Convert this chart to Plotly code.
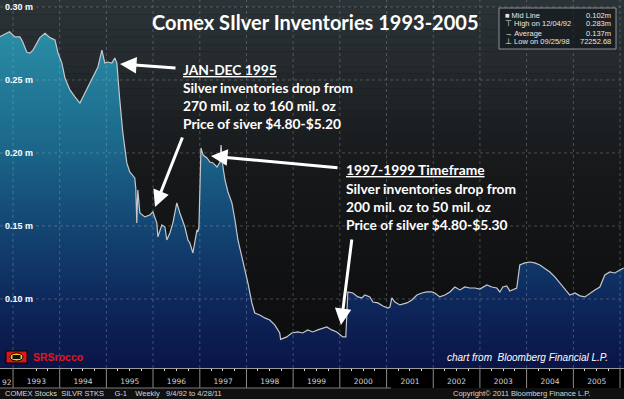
import plotly.graph_objects as go
import numpy as np

# ---------------- data ----------------
dates = [
    "1992-09-04", "1992-12-04", "1993-01-16", "1993-02-24", "1993-03-18", "1993-04-19",
    "1993-05-13", "1993-06-06", "1993-07-30", "1993-09-08", "1993-10-17", "1993-11-25",
    "1993-12-19", "1994-01-18", "1994-02-11", "1994-03-22", "1994-04-30", "1994-06-08",
    "1994-07-17", "1994-08-25", "1994-10-03", "1994-10-27", "1994-11-27", "1994-12-20",
    "1995-01-13", "1995-02-13", "1995-03-08", "1995-03-24", "1995-04-16", "1995-05-10",
    "1995-06-10", "1995-07-03", "1995-08-11", "1995-08-19", "1995-08-27", "1995-09-04",
    "1995-09-20", "1995-10-29", "1995-12-07", "1995-12-31", "1996-01-31", "1996-02-08",
    "1996-03-10", "1996-04-03", "1996-04-18", "1996-05-12", "1996-06-04", "1996-07-05",
    "1996-07-29", "1996-09-06", "1996-09-30", "1996-10-15", "1996-11-08", "1996-11-24",
    "1996-12-10", "1996-12-17", "1996-12-25", "1997-01-10", "1997-01-26", "1997-02-26",
    "1997-03-21", "1997-04-14", "1997-05-15", "1997-06-08", "1997-06-16", "1997-07-01",
    "1997-07-17", "1997-08-09", "1997-09-09", "1997-10-03", "1997-10-26", "1997-11-26",
    "1997-12-20", "1998-01-12", "1998-02-12", "1998-03-07", "1998-04-15", "1998-05-24",
    "1998-07-02", "1998-08-10", "1998-09-18", "1998-09-25", "1998-11-12", "1998-12-21",
    "1999-02-06", "1999-03-17", "1999-04-25", "1999-06-03", "1999-07-13", "1999-08-21",
    "1999-09-21", "1999-10-30", "1999-12-08", "2000-01-25", "2000-02-17", "2000-03-04",
    "2000-04-12", "2000-05-21", "2000-06-21", "2000-07-15", "2000-08-23", "2000-09-16",
    "2000-10-25", "2000-12-03", "2001-01-11", "2001-01-27", "2001-02-11", "2001-03-07",
    "2001-04-15", "2001-06-09", "2001-07-18", "2001-08-26", "2001-10-04", "2001-11-12",
    "2001-12-21", "2002-01-13", "2002-02-21", "2002-04-02", "2002-05-11", "2002-06-19",
    "2002-07-28", "2002-09-05", "2002-10-14", "2002-11-22", "2003-01-01", "2003-02-24",
    "2003-04-04", "2003-05-13", "2003-06-06", "2003-06-29", "2003-07-30", "2003-08-23",
    "2003-09-15", "2003-10-16", "2003-11-09", "2003-12-18", "2004-01-26", "2004-03-05",
    "2004-04-14", "2004-05-23", "2004-07-01", "2004-08-09", "2004-09-17", "2004-10-26",
    "2004-12-04", "2005-01-13", "2005-02-21", "2005-04-01", "2005-05-10", "2005-06-18",
    "2005-07-27", "2005-09-04", "2005-10-13", "2005-11-21", "2005-12-31", "2006-01-31",
]
stocks_m = [
    0.279, 0.283, 0.2795, 0.2795, 0.276, 0.269,
    0.2685, 0.2705, 0.279, 0.282, 0.279, 0.2774,
    0.2685, 0.2616, 0.2514, 0.2432, 0.2384, 0.2342,
    0.2411, 0.2479, 0.2548, 0.2589, 0.2705, 0.2616,
    0.2623, 0.2616, 0.2651, 0.2616, 0.2363, 0.2137,
    0.1932, 0.187, 0.1829, 0.176, 0.152, 0.1747,
    0.1589, 0.1562, 0.1575, 0.1596, 0.152, 0.1425,
    0.1507, 0.1493, 0.1404, 0.1452, 0.152, 0.1658,
    0.1589, 0.1493, 0.1404, 0.1384, 0.1315, 0.1404,
    0.1473, 0.1459, 0.1493, 0.2034, 0.1986, 0.1966,
    0.1938, 0.1932, 0.1904, 0.1938, 0.2055, 0.1904,
    0.1815, 0.1733, 0.1658, 0.1541, 0.1404, 0.1288,
    0.1199, 0.111, 0.0973, 0.0904, 0.089, 0.087,
    0.0856, 0.0822, 0.0767, 0.0723, 0.074, 0.0767,
    0.0774, 0.0767, 0.0788, 0.0774, 0.0788, 0.0801,
    0.0808, 0.0788, 0.0774, 0.074, 0.074, 0.1048,
    0.1041, 0.1014, 0.1007, 0.1027, 0.1014, 0.0979,
    0.0973, 0.0952, 0.0938, 0.0945, 0.1007, 0.0979,
    0.0959, 0.0973, 0.0993, 0.1027, 0.1041, 0.1048,
    0.1048, 0.1041, 0.1014, 0.1027, 0.1048, 0.1082,
    0.1062, 0.1082, 0.1075, 0.1075, 0.1068, 0.1096,
    0.1082, 0.1075, 0.1048, 0.1082, 0.1089, 0.1055,
    0.1062, 0.1075, 0.1233, 0.1247, 0.1253, 0.1247,
    0.1233, 0.1212, 0.1185, 0.1151, 0.111, 0.1062,
    0.1027, 0.1041, 0.1021, 0.1014, 0.1041, 0.1062,
    0.1082, 0.1164, 0.1185, 0.1178, 0.1199, 0.1212,
]
year_starts = list(range(1993, 2007))
y_ticks = [0.10, 0.15, 0.20, 0.25, 0.30]
y_tick_text = ["0.10 m", "0.15 m", "0.20 m", "0.25 m", "0.30 m"]

title_text = "Comex SIlver Inventories 1993-2005"
note1 = ["<u>JAN-DEC 1995</u>", "Silver inventories drop from",
         "270 mil. oz to 160 mil. oz", "Price of siver $4.80-$5.20"]
note2 = ["<u>1997-1999 Timeframe</u>", "Silver inventories drop from",
         "200 mil. oz to 50 mil. oz", "Price of silver $4.80-$5.30"]
legend_labels = ["\u25A0 Mid Line", "\u22A4 High on 12/04/92", "\u2192 Average", "\u22A5 Low on 09/25/98"]
legend_values = ["0.102m", "0.283m", "0.137m", "72252.68"]

# ---------------- layout helpers ----------------
W, H = 624, 399
MB = 31
PH = H - MB
Y_RANGE = [0.0527, 0.3048]
X_RANGE = ["1992-09-21", "2006-02-01"]


def px(x):
    return x / W


def py(y):
    return 1 - y / PH


def hex2rgb(h):
    h = h.lstrip("#")
    return np.array([int(h[i:i + 2], 16) for i in (0, 2, 4)], dtype=float)


fig = go.Figure()
fig.add_trace(go.Scatter(
    x=dates, y=stocks_m, mode="lines",
    line=dict(color="#c4c8cc", width=1.2),
    fill="tozeroy",
    fillgradient=dict(
        type="vertical",
        colorscale=[[0.0, "#0a1446"], [0.2, "#0e285c"], [0.42, "#134673"],
                     [0.63, "#1a6488"], [1.0, "#2a8ea6"]],
        start=Y_RANGE[0], stop=0.285,
    ),
    hoverinfo="skip", showlegend=False,
))

shapes = []
# background vertical gradient (styling)
bg_stops = [(0.0, "#2c3438"), (0.45, "#17191b"), (1.0, "#0b0b0c")]
N = 50
for i in range(N):
    f = (i + 0.5) / N
    for j in range(len(bg_stops) - 1):
        a, ca = bg_stops[j]
        b, cb = bg_stops[j + 1]
        if a <= f <= b:
            t = (f - a) / (b - a)
            c = hex2rgb(ca) * (1 - t) + hex2rgb(cb) * t
            break
    col = "rgb(%d,%d,%d)" % tuple(c.round())
    shapes.append(dict(type="rect", xref="paper", yref="paper", x0=0, x1=1,
                       y0=1 - (i + 1) / N, y1=1 - i / N, fillcolor=col,
                       line=dict(width=0), layer="below"))

# dotted grid above the area
for yr in year_starts:
    shapes.append(dict(type="line", xref="x", yref="paper", x0=f"{yr}-01-01", x1=f"{yr}-01-01",
                       y0=0, y1=1, line=dict(color="rgba(190,195,200,0.30)", width=1, dash="dot"),
                       layer="above"))
for v in y_ticks:
    shapes.append(dict(type="line", xref="paper", yref="y", x0=0, x1=1, y0=v, y1=v,
                       line=dict(color="rgba(190,195,200,0.30)", width=1, dash="dot"),
                       layer="above"))
# year separators in the axis band
for yr in year_starts:
    shapes.append(dict(type="line", xref="x", yref="paper", x0=f"{yr}-01-01", x1=f"{yr}-01-01",
                       y0=py(388), y1=0, line=dict(color="#8a8a8a", width=1)))
# footer strip
shapes.append(dict(type="rect", xref="paper", yref="paper", x0=0, x1=1, y0=py(399), y1=py(388),
                   fillcolor="#101010", line=dict(width=0)))
shapes.append(dict(type="line", xref="paper", yref="paper", x0=0, x1=px(391), y0=py(388), y1=py(388),
                   line=dict(color="#7a7a7a", width=1)))
# legend box
shapes.append(dict(type="rect", xref="paper", yref="paper", x0=px(499), x1=px(616), y0=py(49), y1=py(8),
                   fillcolor="rgba(22,26,30,0.75)", line=dict(color="#8c9196", width=1), layer="above"))
# logo
shapes.append(dict(type="rect", xref="paper", yref="paper", x0=px(6), x1=px(27), y0=py(363), y1=py(351),
                   fillcolor="#e0141b", line=dict(color="#000000", width=1), layer="above"))
shapes.append(dict(type="circle", xref="paper", yref="paper", x0=px(10), x1=px(23), y0=py(361), y1=py(353),
                   fillcolor="#f3d21a", line=dict(color="#000000", width=1), layer="above"))
shapes.append(dict(type="rect", xref="paper", yref="paper", x0=px(12.5), x1=px(20.5), y0=py(359), y1=py(355),
                   fillcolor="#111111", line=dict(width=0), layer="above"))

annotations = []
annotations.append(dict(text="<b>" + title_text + "</b>", xref="paper", yref="paper",
                        x=px(315), y=py(22), xanchor="center", yanchor="middle", showarrow=False,
                        font=dict(family="Lato", size=20, color="white")))
for k, line in enumerate(note1):
    annotations.append(dict(text="<b>" + line + "</b>", xref="paper", yref="paper",
                            x=px(181), y=py(69 + 18 * k), xanchor="left", yanchor="middle",
                            showarrow=False, font=dict(family="Lato", size=13.8, color="white")))
for k, line in enumerate(note2):
    annotations.append(dict(text="<b>" + line + "</b>", xref="paper", yref="paper",
                            x=px(344), y=py(170 + 18.3 * k), xanchor="left", yanchor="middle",
                            showarrow=False, font=dict(family="Lato", size=13.8, color="white")))
# arrows: (head_x, head_y, tail_x, tail_y) in pixels
arrows = [(120, 64, 177, 68), (155, 207, 183, 136), (211, 156, 339, 168), (341, 325, 352, 238)]
for hx, hy, tx, ty in arrows:
    annotations.append(dict(text="", xref="paper", yref="paper", x=px(hx), y=py(hy),
                            ax=tx - hx, ay=ty - hy, showarrow=True, arrowhead=2,
                            arrowsize=1.1, arrowwidth=3, arrowcolor="white", standoff=0))
# legend text
for k, (lab, val) in enumerate(zip(legend_labels, legend_values)):
    annotations.append(dict(text=lab, xref="paper", yref="paper", x=px(503), y=py(15 + 9 * k),
                            xanchor="left", yanchor="middle", showarrow=False,
                            font=dict(family="Liberation Sans", size=7.5, color="#e6e6e6")))
    annotations.append(dict(text=val, xref="paper", yref="paper", x=px(613), y=py(15 + 9 * k),
                            xanchor="right", yanchor="middle", showarrow=False,
                            font=dict(family="Liberation Sans", size=7.5, color="#e6e6e6")))
annotations.append(dict(text="<b>SRSrocco</b>", xref="paper", yref="paper", x=px(31), y=py(357),
                        xanchor="left", yanchor="middle", showarrow=False,
                        font=dict(family="Liberation Sans", size=10.5, color="#e3161d")))
annotations.append(dict(text="<i>chart from  Bloomberg Financial L.P.</i>", xref="paper", yref="paper",
                        x=px(610), y=py(357), xanchor="right", yanchor="middle", showarrow=False,
                        font=dict(family="Liberation Sans", size=10, color="white")))
annotations.append(dict(text="92", xref="paper", yref="paper", x=px(0), y=py(383),
                        xanchor="left", yanchor="middle", showarrow=False,
                        font=dict(family="DejaVu Sans", size=7.5, color="#d0d0d0")))
annotations.append(dict(text="COMEX Stocks  SILVR STKS     G-1    Weekly   9/4/92 to 4/28/11",
                        xref="paper", yref="paper", x=px(3), y=py(393.5), xanchor="left",
                        yanchor="middle", showarrow=False,
                        font=dict(family="Liberation Sans", size=7.5, color="#d6d6d6")))
annotations.append(dict(text="Copyright\u00a9 2011 Bloomberg Finance L.P.",
                        xref="paper", yref="paper", x=px(592), y=py(393.5), xanchor="right",
                        yanchor="middle", showarrow=False,
                        font=dict(family="Liberation Sans", size=7.5, color="#d6d6d6")))

fig.update_layout(
    width=W, height=H, margin=dict(l=0, r=0, t=0, b=MB),
    paper_bgcolor="#000000", plot_bgcolor="#16191b",
    shapes=shapes, annotations=annotations, showlegend=False,
    xaxis=dict(type="date", range=X_RANGE, showgrid=False, zeroline=False,
               showline=True, linecolor="#9a9a9a", linewidth=1,
               ticks="", ticklabelmode="period", dtick="M12", tick0="1993-01-01",
               tickformat="%Y", ticklabelstandoff=6,
               tickfont=dict(family="DejaVu Sans", size=7.5, color="#d0d0d0"),
               minor=dict(ticks="outside", ticklen=2, tickcolor="#e0e0e0", dtick="M3",
                          tick0="1993-01-01", showgrid=False)),
    yaxis=dict(range=Y_RANGE, showgrid=False, zeroline=False, showline=False,
               tickvals=y_ticks, ticktext=y_tick_text, ticks="",
               ticklabelposition="inside", ticklabelstandoff=2,
               tickfont=dict(family="Liberation Sans", size=9, color="white", weight="bold")),
)

fig.write_html("out.html", config={"displayModeBar": False},
               post_script="document.body.style.margin='0';")
